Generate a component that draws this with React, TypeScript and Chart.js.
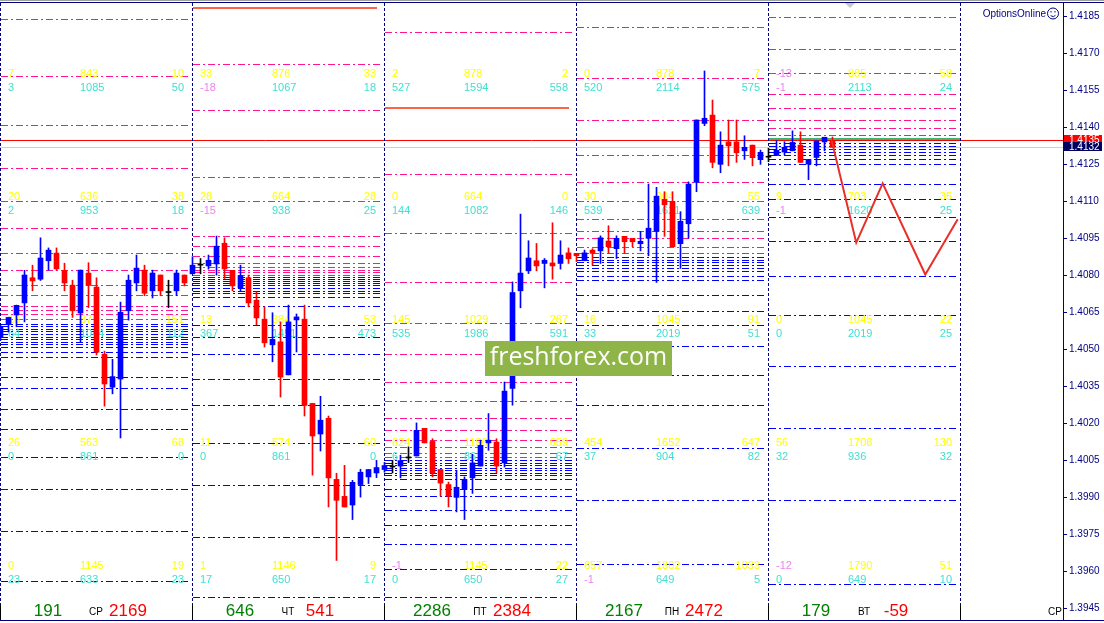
import React, { useEffect, useRef } from "react";
import { Chart, registerables } from "chart.js";
Chart.register(...registerables);

// ---------- Candles (H1), index k = hour since first bar ----------
const opens = [
  1.40549, 1.40601, 1.40640, 1.40689, 1.40791, 1.40785, 1.40860, 1.40891, 1.40821, 1.40761, 1.40648, 1.40810,
  1.40753, 1.40481, 1.40347, 1.40380, 1.40657, 1.40770, 1.40822, 1.40738, 1.40802, 1.40731, 1.40738, 1.40802,
  1.40807, 1.40842, 1.40839, 1.40847, 1.40931, 1.40821, 1.40750, 1.40791, 1.40700, 1.40623, 1.40519, 1.40531,
  1.40397, 1.40620, 1.40623, 1.40281, 1.40157, 1.40221, 1.39973, 1.39904, 1.39869, 1.39952, 1.39983, 1.39999,
  1.40013, 1.40023, 1.40027, 1.40060, 1.40068, 1.40180, 1.40127, 1.40013, 1.39952, 1.39900, 1.39932, 1.39979,
  1.40027, 1.40121, 1.40124, 1.40040, 1.40342, 1.40738, 1.40819, 1.40860, 1.40849, 1.40851, 1.40849, 1.40892,
  1.40890, 1.40860, 1.40903, 1.40900, 1.40940, 1.40909, 1.40959, 1.40951, 1.40929, 1.40951, 1.40979, 1.41109,
  1.41101, 1.40929, 1.41010, 1.41178, 1.41417, 1.41451, 1.41251, 1.41342, 1.41342, 1.41306, 1.41329, 1.41270,
  1.41280, 1.41287, 1.41301, 1.41306, 1.41329, 1.41252, 1.41279, 1.41342, 1.41347,
];
const highs = [
  1.40599, 1.40631, 1.40680, 1.40821, 1.40842, 1.40953, 1.40912, 1.40912, 1.40850, 1.40781, 1.40822, 1.40852,
  1.40791, 1.40493, 1.40460, 1.40692, 1.40802, 1.40883, 1.40842, 1.40822, 1.40802, 1.40781, 1.40822, 1.40802,
  1.40876, 1.40869, 1.40883, 1.40960, 1.40953, 1.40821, 1.40842, 1.40802, 1.40734, 1.40673, 1.40649, 1.40612,
  1.40680, 1.40644, 1.40680, 1.40281, 1.40310, 1.40230, 1.39998, 1.40030, 1.39969, 1.40014, 1.40013, 1.40050,
  1.40042, 1.40050, 1.40071, 1.40105, 1.40202, 1.40180, 1.40138, 1.40013, 1.39962, 1.40010, 1.39983, 1.40075,
  1.40132, 1.40240, 1.40138, 1.40368, 1.40774, 1.41049, 1.40941, 1.40930, 1.40869, 1.41014, 1.40941, 1.40912,
  1.40890, 1.40903, 1.40909, 1.40961, 1.41002, 1.40961, 1.40959, 1.40951, 1.40979, 1.41171, 1.41158, 1.41140,
  1.41140, 1.41059, 1.41180, 1.41431, 1.41630, 1.41512, 1.41383, 1.41431, 1.41431, 1.41367, 1.41329, 1.41309,
  1.41316, 1.41347, 1.41343, 1.41387, 1.41383, 1.41271, 1.41346, 1.41361, 1.41362,
];
const lows = [
  1.40538, 1.40571, 1.40592, 1.40612, 1.40738, 1.40780, 1.40822, 1.40822, 1.40738, 1.40630, 1.40528, 1.40670,
  1.40478, 1.40270, 1.40320, 1.40141, 1.40619, 1.40738, 1.40718, 1.40709, 1.40718, 1.40670, 1.40718, 1.40758,
  1.40807, 1.40807, 1.40826, 1.40802, 1.40788, 1.40738, 1.40738, 1.40673, 1.40600, 1.40510, 1.40450, 1.40307,
  1.40397, 1.40490, 1.40230, 1.39990, 1.40088, 1.39861, 1.39644, 1.39861, 1.39810, 1.39901, 1.39956, 1.39980,
  1.40002, 1.39999, 1.39979, 1.40041, 1.40068, 1.40121, 1.39983, 1.39905, 1.39861, 1.39841, 1.39810, 1.39916,
  1.40027, 1.40091, 1.39999, 1.40023, 1.40274, 1.40669, 1.40808, 1.40819, 1.40750, 1.40785, 1.40826, 1.40849,
  1.40856, 1.40860, 1.40842, 1.40849, 1.40890, 1.40869, 1.40890, 1.40917, 1.40900, 1.40880, 1.40772, 1.40959,
  1.40917, 1.40829, 1.40951, 1.41140, 1.41408, 1.41237, 1.41217, 1.41245, 1.41259, 1.41271, 1.41245, 1.41251,
  1.41262, 1.41287, 1.41289, 1.41306, 1.41259, 1.41189, 1.41245, 1.41306, 1.41320,
];
const closes = [
  1.40592, 1.40630, 1.40679, 1.40802, 1.40778, 1.40871, 1.40903, 1.40827, 1.40770, 1.40657, 1.40822, 1.40760,
  1.40489, 1.40360, 1.40390, 1.40651, 1.40781, 1.40830, 1.40728, 1.40810, 1.40738, 1.40731, 1.40810, 1.40770,
  1.40842, 1.40842, 1.40862, 1.40919, 1.40827, 1.40758, 1.40800, 1.40689, 1.40628, 1.40527, 1.40541, 1.40388,
  1.40612, 1.40632, 1.40273, 1.40149, 1.40213, 1.39979, 1.39888, 1.39861, 1.39961, 1.40002, 1.40013, 1.40021,
  1.40029, 1.40023, 1.40049, 1.40060, 1.40172, 1.40121, 1.39999, 1.39958, 1.39905, 1.39941, 1.39973, 1.40040,
  1.40111, 1.40132, 1.40027, 1.40331, 1.40731, 1.40810, 1.40871, 1.40839, 1.40862, 1.40839, 1.40883, 1.40868,
  1.40880, 1.40892, 1.40890, 1.40953, 1.40917, 1.40951, 1.40937, 1.40937, 1.40939, 1.40992, 1.41122, 1.41087,
  1.40917, 1.41020, 1.41171, 1.41431, 1.41438, 1.41259, 1.41329, 1.41326, 1.41298, 1.41320, 1.41278, 1.41300,
  1.41280, 1.41308, 1.41320, 1.41340, 1.41259, 1.41271, 1.41346, 1.41361, 1.41320,
];

// ---------- Forecast zigzag ----------
const forecastX = [103.9, 106.97, 110.27, 115.6, 119.65];
const forecastY = [1.41348, 1.40933, 1.41174, 1.40804, 1.41028];

// ---------- Price axis ----------
const priceTicks = [
  1.3945, 1.396, 1.3975, 1.399, 1.4005, 1.402, 1.4035, 1.405, 1.4065, 1.408, 1.4095, 1.411, 1.4125, 1.414,
  1.4155, 1.417, 1.4185,
];
const askPrice = 1.4135;
const bidPrice = 1.4132;

// ---------- Day zones ----------
const dayNames = ["СР", "ЧТ", "ПТ", "ПН", "ВТ"];
const dayGreen = [191, 646, 2286, 2167, 179];
const dayRed = [2169, 541, 2384, 2472, -59];

const pinkLevels = [
  [1.4184, 1.41608, 1.41409, 1.41238, 1.41101, 1.40991, 1.4089, 1.40822, 1.40761, 1.40719, 1.40678, 1.40659, 1.40642, 1.40624],
  [1.41657, 1.4147, 1.41198, 1.41101, 1.40959, 1.40918, 1.4088, 1.40849, 1.40835, 1.40824, 1.40814, 1.40804],
  [1.41787, 1.4121, 1.40971, 1.40772, 1.40609, 1.4048, 1.40369, 1.40289, 1.4022, 1.40172, 1.40132, 1.40105, 1.4008, 1.40064],
  [1.41807, 1.416, 1.41431, 1.41287, 1.41178, 1.41101, 1.41028, 1.40979, 1.40951, 1.40917, 1.40893],
  [1.41848, 1.41718, 1.4162, 1.41536, 1.41478, 1.4143, 1.41398, 1.41369],
];
const blueLevels = [
  [1.40605, 1.40594, 1.40583, 1.40574, 1.40563, 1.40552, 1.40542, 1.40531, 1.40521, 1.4051, 1.4049, 1.40469, 1.40388, 1.40342, 1.4026, 1.40179, 1.40062, 1.39932, 1.39762, 1.39562],
  [1.40795, 1.40787, 1.40778, 1.4077, 1.40761, 1.4075, 1.40739, 1.4073, 1.40712, 1.40678, 1.40601, 1.40549, 1.4048, 1.40382, 1.40273, 1.40122, 1.39952, 1.39739, 1.39495],
  [1.4005, 1.40039, 1.4003, 1.40021, 1.4001, 1.39999, 1.3999, 1.39973, 1.39932, 1.39904, 1.3985, 1.39788, 1.39712, 1.39611, 1.39495],
  [1.40876, 1.40864, 1.40854, 1.40843, 1.40832, 1.40819, 1.408, 1.4078, 1.40719, 1.40658, 1.40601, 1.40513, 1.40396, 1.40273, 1.40102, 1.39891, 1.39631],
  [1.41339, 1.41326, 1.41313, 1.41302, 1.4129, 1.41271, 1.41251, 1.4117, 1.41109, 1.41038, 1.4094, 1.408, 1.40641, 1.40431, 1.4018, 1.39891, 1.3955],
];
const tomatoDays = [1, 2];
const tomatoPrices = [1.41884, 1.41481];
const greenDays = [4];
const greenPrices = [1.41352];

// text rows: [left, centre, right] per zone (top to bottom)
const yellowLevels = [1.41618, 1.41118, 1.40619, 1.40119, 1.3962];
const turqLevels = [1.41561, 1.41061, 1.40562, 1.40063, 1.39563];
const yellowRows = [
  [[7, 843, 10], [20, 636, 38], [16, 37, 151], [26, 563, 68], [0, 1145, 19]],
  [[33, 876, 33], [28, 664, 28], [13, 384, 53], [11, 574, 60], [1, 1146, 9]],
  [[2, 878, 2], [0, 664, 0], [145, 1029, 267], [624, 1196, 659], [-1, 1145, 22]],
  [[0, 878, 7], [30, 904, 55], [16, 1045, 91], [454, 1652, 647], [657, 1802, 1033]],
  [[-13, 865, 58], [9, 703, 35], [0, 1045, 22], [56, 1708, 130], [-12, 1790, 51]],
];
const turqRows = [
  [[3, 1085, 50], [2, 953, 18], [64, 1044, 112], [0, 861, 0], [23, 633, 23]],
  [[-18, 1067, 18], [-15, 938, 25], [367, 1451, 473], [0, 861, 0], [17, 650, 17]],
  [[527, 1594, 558], [144, 1082, 146], [535, 1986, 591], [6, 861, 67], [0, 650, 27]],
  [[520, 2114, 575], [539, 1621, 639], [33, 2019, 51], [37, 904, 82], [-1, 649, 5]],
  [[-1, 2113, 24], [-1, 1620, 25], [0, 2019, 25], [32, 936, 32], [0, 649, 10]],
];

const FONT = '"Liberation Sans", Arial, sans-serif';
const NAVY = "#000080";

const overlay = {
  id: "mt4Overlay",
  beforeDatasetsDraw(chart: any) {
    const { ctx, chartArea: ca, scales } = chart;
    const xs = scales.x;
    const ys = scales.y;
    const py = (v: number) => Math.round(ys.getPixelForValue(v)) + 0.5;
    const dayX = (d: number) => Math.round(xs.getPixelForValue(24 * d) - 0.5);
    const hline = (x0: number, x1: number, y: number) => {
      ctx.beginPath();
      ctx.moveTo(x0, y);
      ctx.lineTo(x1, y);
      ctx.stroke();
    };
    ctx.save();
    ctx.lineWidth = 1;
    ctx.strokeStyle = "#cfcfcf";
    hline(ca.left, ca.right, py(bidPrice));

    ctx.setLineDash([7, 3, 2, 3]);
    for (let d = 0; d < 5; d++) {
      const x0 = dayX(d) + 1;
      const x1 = x0 + 189;
      ctx.strokeStyle = "#ff1493";
      pinkLevels[d].forEach((p) => hline(x0, x1, py(p)));
      ctx.strokeStyle = "#0000ff";
      blueLevels[d].forEach((p) => hline(x0, x1, py(p)));
    }
    ctx.setLineDash([]);
    ctx.lineWidth = 2;
    ctx.strokeStyle = "#ff6347";
    tomatoDays.forEach((d, i) => hline(dayX(d) + 1, dayX(d) + 185, Math.round(ys.getPixelForValue(tomatoPrices[i]))));
    ctx.strokeStyle = "#3cb371";
    greenDays.forEach((d, i) => hline(dayX(d) + 1, dayX(d) + 192, Math.round(ys.getPixelForValue(greenPrices[i]))));

    ctx.lineWidth = 1;
    ctx.strokeStyle = "#ff0000";
    hline(ca.left, ca.right, py(askPrice));

    for (let d = 0; d <= 5; d++) {
      const x = dayX(d) + 0.5;
      ctx.strokeStyle = NAVY;
      ctx.setLineDash([3, 2]);
      ctx.beginPath();
      ctx.moveTo(x, ca.top);
      ctx.lineTo(x, ca.bottom - 16);
      ctx.stroke();
      ctx.setLineDash([]);
      ctx.strokeStyle = "#000000";
      ctx.beginPath();
      ctx.moveTo(x, ca.bottom - 16);
      ctx.lineTo(x, ca.bottom);
      ctx.stroke();
    }

    ctx.font = `11px ${FONT}`;
    ctx.textBaseline = "middle";
    const drawRow = (vals: number[], y: number, color: string, dx: number) => {
      vals.forEach((v, i) => {
        ctx.fillStyle = v < 0 ? "#ee82ee" : color;
        ctx.textAlign = i === 2 ? "right" : "left";
        const x = i === 0 ? dx + 8 : i === 1 ? dx + 80 : dx + 184;
        ctx.fillText(String(v), x, y);
      });
    };
    for (let d = 0; d < 5; d++) {
      const dx = dayX(d);
      for (let z = 0; z < 5; z++) {
        drawRow(yellowRows[d][z], ys.getPixelForValue(yellowLevels[z]), "#ffff00", dx);
        drawRow(turqRows[d][z], ys.getPixelForValue(turqLevels[z]), "#40e0d0", dx);
      }
    }

    const by = ca.bottom - 9;
    for (let d = 0; d < 5; d++) {
      const dx = dayX(d);
      ctx.textAlign = "center";
      ctx.font = `17px ${FONT}`;
      ctx.fillStyle = "#008000";
      ctx.fillText(String(dayGreen[d]), dx + 48, by);
      ctx.fillStyle = "#ff0000";
      ctx.fillText(String(dayRed[d]), dx + 128, by);
      ctx.font = `10px ${FONT}`;
      ctx.fillStyle = "#000000";
      ctx.fillText(dayNames[d], dx + 96, by + 1);
    }
    ctx.font = `10px ${FONT}`;
    ctx.textAlign = "right";
    ctx.fillStyle = "#000000";
    ctx.fillText("СР", ca.right - 1, by + 1);
    ctx.restore();
  },
  afterDraw(chart: any) {
    const { ctx, chartArea: ca, scales, width } = chart;
    const ys = scales.y;
    ctx.save();
    ctx.fillStyle = "#8fb548";
    ctx.fillRect(485, 341, 187, 35);
    ctx.fillStyle = "#ffffff";
    ctx.font = `25px "Open Sans", ${FONT}`;
    ctx.textAlign = "center";
    ctx.textBaseline = "middle";
    ctx.fillText("freshforex.com", 578.5, 358);

    ctx.strokeStyle = NAVY;
    ctx.lineWidth = 1;
    ctx.beginPath();
    ctx.moveTo(0, ca.top - 0.5);
    ctx.lineTo(width, ca.top - 0.5);
    ctx.moveTo(0, ca.bottom + 0.5);
    ctx.lineTo(width, ca.bottom + 0.5);
    ctx.stroke();
    ctx.strokeStyle = "#a0a0a0";
    ctx.beginPath();
    ctx.moveTo(0, 0.5);
    ctx.lineTo(width, 0.5);
    ctx.stroke();

    ctx.fillStyle = "#c8c8c8";
    ctx.beginPath();
    ctx.moveTo(845, ca.top);
    ctx.lineTo(855, ca.top);
    ctx.lineTo(850, ca.top + 5);
    ctx.closePath();
    ctx.fill();

    ctx.font = `10px ${FONT}`;
    ctx.textAlign = "left";
    ctx.textBaseline = "middle";
    const box = (p: number, bg: string) => {
      const y = ys.getPixelForValue(p);
      ctx.fillStyle = bg;
      ctx.fillRect(ca.right + 1, Math.round(y) - 5, 38, 9);
      ctx.fillStyle = "#ffffff";
      ctx.fillText(p.toFixed(4), ca.right + 6, y);
    };
    box(askPrice, "#ff0000");
    box(bidPrice, "#000060");

    ctx.fillStyle = NAVY;
    ctx.font = `10px ${FONT}`;
    ctx.textAlign = "right";
    ctx.fillText("OptionsOnline", ca.right - 17, 14);
    ctx.strokeStyle = NAVY;
    ctx.beginPath();
    ctx.arc(ca.right - 10, 13.5, 5.5, 0, Math.PI * 2);
    ctx.stroke();
    ctx.beginPath();
    ctx.arc(ca.right - 10, 13.5, 3, 0.2 * Math.PI, 0.8 * Math.PI);
    ctx.stroke();
    ctx.fillStyle = NAVY;
    ctx.fillRect(ca.right - 12.5, 11, 1, 1.5);
    ctx.fillRect(ca.right - 8.5, 11, 1, 1.5);
    ctx.restore();
  },
};

export default function App() {
  const ref = useRef<HTMLCanvasElement | null>(null);
  useEffect(() => {
    if (!ref.current) return;
    Chart.defaults.font.family = FONT;
    const idx = opens.map((_, k) => k);
    const colors = idx.map((k) =>
      closes[k] > opens[k] ? "#0000ff" : closes[k] < opens[k] ? "#ff0000" : "#000000"
    );
    const chart = new Chart(ref.current, {
      type: "bar",
      data: {
        datasets: [
          {
            type: "line",
            data: forecastX.map((x, i) => ({ x, y: forecastY[i] })),
            borderColor: "#e8302a",
            borderWidth: 2,
            pointRadius: 0,
            order: 0,
          } as any,
          {
            type: "bar",
            data: idx.map((k) => ({ x: k, y: [opens[k], closes[k]] })),
            backgroundColor: colors,
            barThickness: 5,
            minBarLength: 1,
            grouped: false,
            order: 1,
          } as any,
          {
            type: "bar",
            data: idx.map((k) => ({ x: k, y: [lows[k], highs[k]] })),
            backgroundColor: colors,
            barThickness: 1,
            grouped: false,
            order: 2,
          } as any,
        ],
      },
      options: {
        animation: false,
        responsive: false,
        devicePixelRatio: 1,
        layout: { padding: { top: 3, bottom: 3, left: 0, right: 0 } },
        plugins: { legend: { display: false }, tooltip: { enabled: false } },
        scales: {
          x: {
            type: "linear",
            display: false,
            offset: false,
            min: -0.0625,
            max: 132.8125,
            grid: { display: false },
          },
          y: {
            position: "right",
            min: 1.394025,
            max: 1.419056,
            afterFit: (s: any) => {
              s.width = 41;
              s.paddingTop = 0;
              s.paddingBottom = 0;
            },
            afterBuildTicks: (s: any) => {
              s.ticks = priceTicks.map((v) => ({ value: v }));
            },
            ticks: {
              color: NAVY,
              font: { size: 10, family: FONT },
              padding: 2,
              autoSkip: false,
              callback: (v: any) => Number(v).toFixed(4),
            },
            grid: { drawOnChartArea: false, drawTicks: true, tickLength: 4, color: NAVY },
            border: { display: true, color: NAVY },
          },
        },
      } as any,
      plugins: [overlay],
    });
    return () => chart.destroy();
  }, []);
  return (
    <div style={{ position: "fixed", left: 0, top: 0, width: 1104, height: 623, background: "#fff" }}>
      <canvas ref={ref} width={1104} height={623} style={{ display: "block" }} />
    </div>
  );
}
